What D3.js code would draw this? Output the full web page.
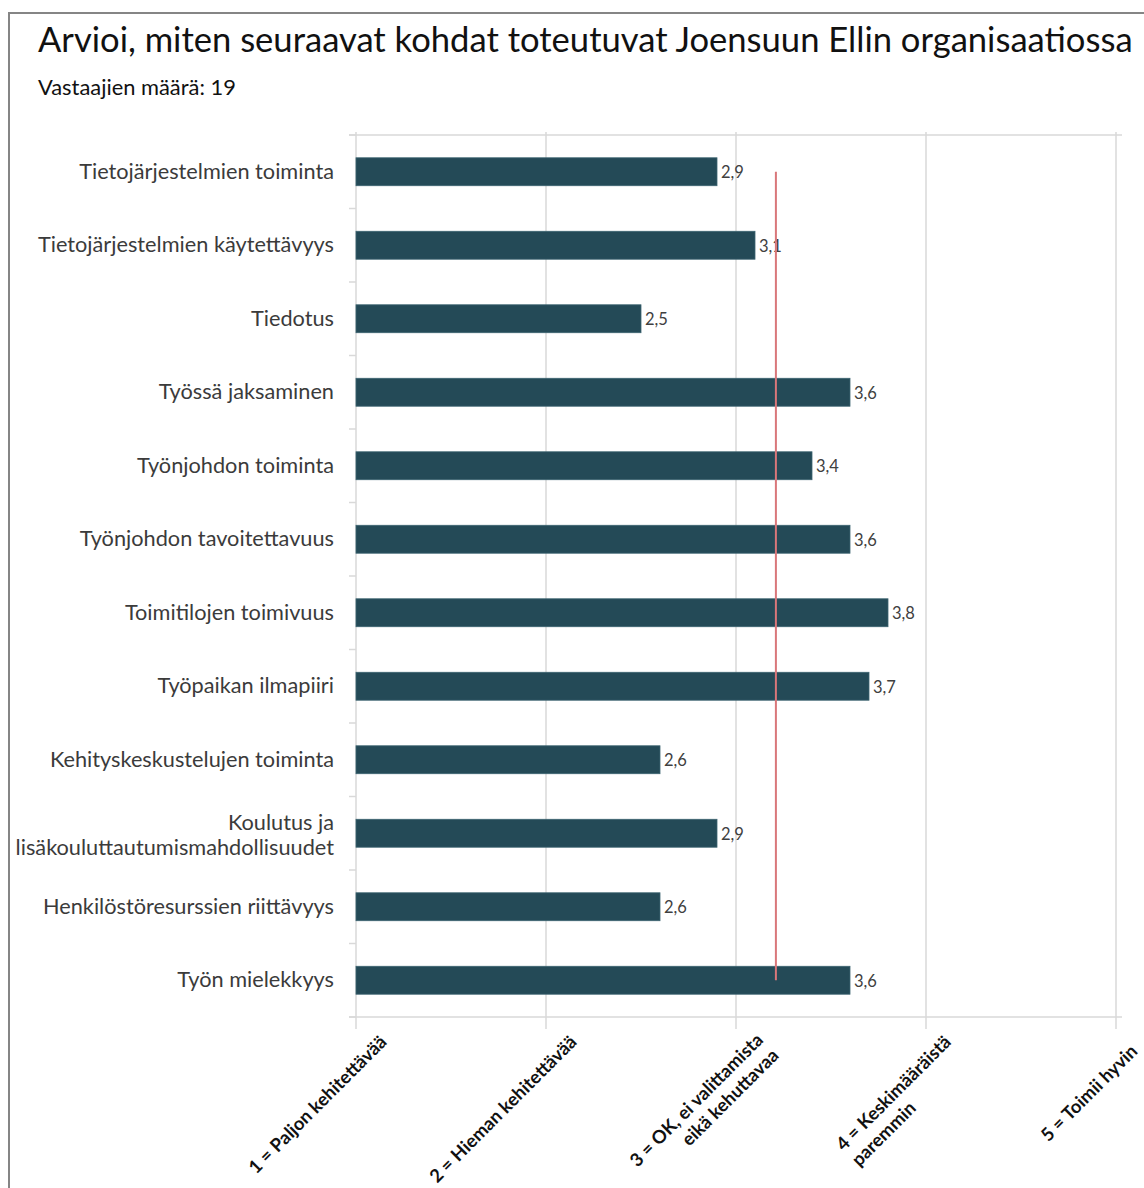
<!DOCTYPE html>
<html>
<head>
<meta charset="utf-8">
<script src="https://cdn.jsdelivr.net/npm/d3@7"></script>
<style>
  html, body { margin: 0; padding: 0; background: #fff; }
  svg { display: block; }
  text { font-family: Lato, "Open Sans", sans-serif; }
</style>
</head>
<body>
<svg id="chart" width="1144" height="1188"></svg>
<script>
// ---- data ----
const titleText = "Arvioi, miten seuraavat kohdat toteutuvat Joensuun Ellin organisaatiossa";
const subtitleText = "Vastaajien määrä: 19";

const categories = [
  ["Tietojärjestelmien toiminta"],
  ["Tietojärjestelmien käytettävyys"],
  ["Tiedotus"],
  ["Työssä jaksaminen"],
  ["Työnjohdon toiminta"],
  ["Työnjohdon tavoitettavuus"],
  ["Toimitilojen toimivuus"],
  ["Työpaikan ilmapiiri"],
  ["Kehityskeskustelujen toiminta"],
  ["Koulutus ja", "lisäkouluttautumismahdollisuudet"],
  ["Henkilöstöresurssien riittävyys"],
  ["Työn mielekkyys"]
];
const values = [2.9, 3.1, 2.5, 3.6, 3.4, 3.6, 3.8, 3.7, 2.6, 2.9, 2.6, 3.6];

// overall average (reference line)
const averageValue = 3.21;

const scaleTicks = [1, 2, 3, 4, 5];
const tickLabels = [
  ["1 = Paljon kehitettävää"],
  ["2 = Hieman kehitettävää"],
  ["3 = OK, ei valittamista", "eikä kehuttavaa"],
  ["4 = Keskimääräistä", "paremmin"],
  ["5 = Toimii hyvin"]
];

// ---- layout ----
const svg = d3.select("#chart");
const plot = { left: 356, right: 1116, top: 135, bottom: 1017 };
const gridColor = "#d9d9d9";
const barColor = "#244a57";
const textColor = "#3b3b3b";

const x = d3.scaleLinear().domain([1, 5]).range([plot.left, plot.right]);
const y = d3.scaleBand()
  .domain(d3.range(categories.length))
  .range([plot.top, plot.bottom])
  .paddingInner(0.62)
  .paddingOuter(0.31);
const step = y.step();

// scale a text element's font so that its rendered width hits a target
function fitFont(sel, target, startSize) {
  sel.attr("font-size", startSize);
  const w = sel.node().getComputedTextLength();
  const size = startSize * target / w;
  sel.attr("font-size", size);
  return size;
}

// outer frame
svg.append("rect")
  .attr("x", 9).attr("y", 13)
  .attr("width", 1300).attr("height", 1300)
  .attr("fill", "none")
  .attr("stroke", "#858585")
  .attr("stroke-width", 2);

// title & subtitle
const title = svg.append("text")
  .attr("x", 38).attr("y", 52)
  .attr("fill", "#111")
  .text(titleText);
fitFont(title, 1095, 32);

const subtitle = svg.append("text")
  .attr("x", 38).attr("y", 95)
  .attr("fill", "#111")
  .text(subtitleText);
fitFont(subtitle, 198, 18);

// vertical gridlines (with ticks below the axis)
svg.append("g")
  .selectAll("line")
  .data(scaleTicks)
  .join("line")
  .attr("x1", d => x(d)).attr("x2", d => x(d))
  .attr("y1", plot.top - 3).attr("y2", plot.bottom + 12)
  .attr("stroke", gridColor)
  .attr("stroke-width", 1.5);

// horizontal frame lines at top and bottom of the plot
svg.append("g")
  .selectAll("line")
  .data([plot.top, plot.bottom])
  .join("line")
  .attr("x1", plot.left - 7).attr("x2", plot.right + 6)
  .attr("y1", d => d).attr("y2", d => d)
  .attr("stroke", gridColor)
  .attr("stroke-width", 1.5);

// category boundary ticks on the left axis
svg.append("g")
  .selectAll("line")
  .data(d3.range(categories.length + 1))
  .join("line")
  .attr("x1", plot.left - 7).attr("x2", plot.left)
  .attr("y1", i => plot.top + i * step).attr("y2", i => plot.top + i * step)
  .attr("stroke", gridColor)
  .attr("stroke-width", 1.5);

// category labels
const catG = svg.append("g");
const catLabels = catG.selectAll("text")
  .data(categories)
  .join("text")
  .attr("text-anchor", "end")
  .attr("fill", textColor);
catLabels.each(function(lines, i) {
  const cy = y(i) + y.bandwidth() / 2;
  const lh = 25;
  const t = d3.select(this);
  lines.forEach((ln, k) => {
    t.append("tspan")
      .attr("x", 334)
      .attr("y", cy + 7 + (lines.length > 1 ? 2.5 : 0) + (k - (lines.length - 1) / 2) * lh)
      .text(ln);
  });
});
// common label size, sized from the first label's width
const probe = catG.append("text").text(categories[0][0]);
const catSize = fitFont(probe, 255, 18);
probe.remove();
catLabels.attr("font-size", catSize);

// bars
svg.append("g")
  .selectAll("rect")
  .data(values)
  .join("rect")
  .attr("x", x(1))
  .attr("y", (d, i) => y(i))
  .attr("width", d => x(d) - x(1))
  .attr("height", y.bandwidth())
  .attr("fill", barColor)
  .attr("stroke", "#3d6470")
  .attr("stroke-width", 0.8);

// value labels
svg.append("g")
  .selectAll("text")
  .data(values)
  .join("text")
  .attr("x", d => x(d) + 4)
  .attr("y", (d, i) => y(i) + y.bandwidth() / 2 + 6.5)
  .attr("font-size", 16.5)
  .attr("fill", "#404040")
  .text(d => d3.format(".1f")(d).replace(".", ","));

// average line from first to last category centre
svg.append("line")
  .attr("x1", x(averageValue)).attr("x2", x(averageValue))
  .attr("y1", y(0) + y.bandwidth() / 2)
  .attr("y2", y(categories.length - 1) + y.bandwidth() / 2)
  .attr("stroke", "#d9777a")
  .attr("stroke-width", 2);

// rotated scale labels below the axis
const tickG = svg.append("g");
const tickProbe = tickG.append("text").attr("font-weight", 700).text(tickLabels[0][0]);
const tickSize = fitFont(tickProbe, 186, 16);
tickProbe.remove();
const tickShift = [4, 4, 3, 0, -9];
tickLabels.forEach((lines, i) => {
  const g = tickG.append("g")
    .attr("transform", `translate(${x(scaleTicks[i])},${plot.bottom}) rotate(-45)`);
  const t = g.append("text")
    .attr("font-size", tickSize)
    .attr("font-weight", 700)
    .attr("fill", "#111");
  const u = tickShift[i];
  const v0 = lines.length > 1 ? 37 : 41, lh = 22;
  const tspans = lines.map((ln, k) =>
    t.append("tspan").attr("y", v0 + k * lh).text(ln));
  if (i === 3) {
    // left aligned block: both lines start where the first one starts
    const w0 = tspans[0].node().getComputedTextLength();
    tspans.forEach(s => s.attr("x", u - w0).attr("text-anchor", "start"));
  } else {
    tspans.forEach(s => s.attr("x", u));
    t.attr("text-anchor", "end");
  }
});
</script>
</body>
</html>
